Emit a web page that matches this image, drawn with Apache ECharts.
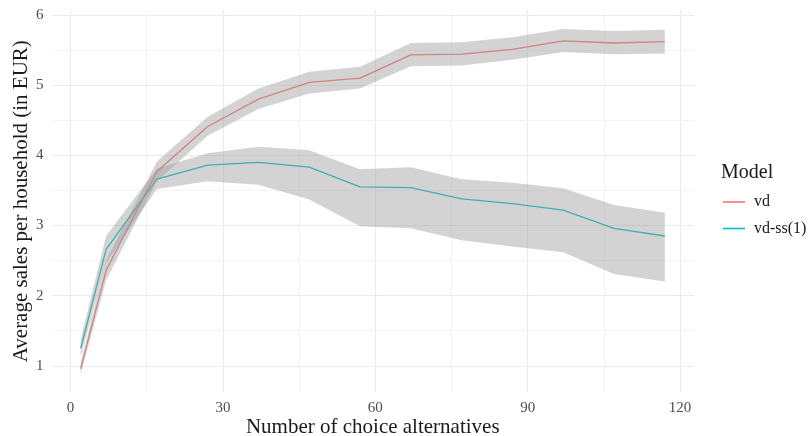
<!DOCTYPE html>
<html><head><meta charset="utf-8">
<script src="https://cdn.jsdelivr.net/npm/echarts@6/dist/echarts.min.js"></script>
<style>html,body{margin:0;padding:0;background:#fff}#c{width:809px;height:436px}</style>
</head><body><div id="c"></div>
<script>
const xs = [2, 7, 17, 27, 37, 47, 57, 67, 77, 87, 97, 107, 117];
const vdMean = [0.96, 2.36, 3.77, 4.41, 4.80, 5.04, 5.10, 5.43, 5.44, 5.51, 5.63, 5.60, 5.62];
const vdLow  = [0.88, 2.22, 3.63, 4.28, 4.66, 4.88, 4.95, 5.27, 5.28, 5.36, 5.47, 5.44, 5.45];
const vdHigh = [1.04, 2.50, 3.91, 4.55, 4.95, 5.19, 5.26, 5.60, 5.61, 5.68, 5.80, 5.77, 5.79];
const ssMean = [1.25, 2.66, 3.66, 3.86, 3.90, 3.83, 3.55, 3.54, 3.38, 3.31, 3.22, 2.96, 2.85];
const ssLow  = [1.13, 2.47, 3.52, 3.63, 3.58, 3.37, 2.99, 2.96, 2.79, 2.70, 2.62, 2.31, 2.20];
const ssHigh = [1.38, 2.85, 3.81, 4.03, 4.12, 4.07, 3.80, 3.83, 3.66, 3.61, 3.53, 3.29, 3.18];
const xMajor = [0, 30, 60, 90, 120];
const xMinor = [15, 45, 75, 105];
const yMajor = [1, 2, 3, 4, 5, 6];
const yMinor = [1.5, 2.5, 3.5, 4.5, 5.5];
const seriesNames = ['vd', 'vd-ss(1)'];

const FONT = 'Liberation Serif';
const chart = echarts.init(document.getElementById('c'), null, {renderer: 'canvas'});

function ribbon(lo, hi) {
  return {
    type: 'custom',
    silent: true,
    z: 3,
    data: xs.map((x, i) => [x, lo[i], hi[i]]),
    encode: {x: 0, y: [1, 2]},
    renderItem: function (params, api) {
      if (params.dataIndex !== 0) return null;
      const pts = [];
      for (let i = 0; i < xs.length; i++) pts.push(api.coord([xs[i], hi[i]]));
      for (let i = xs.length - 1; i >= 0; i--) pts.push(api.coord([xs[i], lo[i]]));
      return {type: 'polygon', shape: {points: pts}, style: {fill: 'rgba(153,153,153,0.43)', stroke: null}};
    }
  };
}

const gridLines = [];
xMajor.forEach(v => gridLines.push({xAxis: v, lineStyle: {color: '#ebebeb', width: 1.1, type: 'solid'}}));
xMinor.forEach(v => gridLines.push({xAxis: v, lineStyle: {color: '#f4f4f4', width: 1, type: 'solid'}}));
yMajor.forEach(v => gridLines.push({yAxis: v, lineStyle: {color: '#ebebeb', width: 1.1, type: 'solid'}}));
yMinor.forEach(v => gridLines.push({yAxis: v, lineStyle: {color: '#f4f4f4', width: 1, type: 'solid'}}));

chart.setOption({
  animation: false,
  backgroundColor: '#ffffff',
  grid: {left: 51.5, right: 115, top: 10, bottom: 43.5, containLabel: false, outerBoundsMode: 'none'},
  title: {text: 'Model', left: 721, top: 163, padding: 0, textStyle: {fontFamily: FONT, fontSize: 20, fontWeight: 'normal', color: '#1a1a1a'}},
  legend: {
    data: seriesNames, orient: 'vertical', left: 723, top: 194, padding: 0,
    icon: 'rect', itemWidth: 22, itemHeight: 1.6, itemGap: 10.5,
    textStyle: {fontFamily: FONT, fontSize: 16, color: '#1a1a1a', padding: [0, 0, 0, 4]}
  },
  xAxis: {
    type: 'value', min: -3.75, max: 122.75,
    name: 'Number of choice alternatives', nameLocation: 'middle', nameGap: 24, nameMoveOverlap: false,
    nameTextStyle: {fontFamily: FONT, fontSize: 21, color: '#1a1a1a'},
    axisLine: {show: false, onZero: false}, axisTick: {show: false}, splitLine: {show: false},
    axisLabel: {customValues: xMajor, fontFamily: FONT, fontSize: 15, color: '#4d4d4d', margin: 8}
  },
  yAxis: {
    type: 'value', min: 0.62, max: 6.07,
    name: 'Average sales per household (in EUR)', nameLocation: 'middle', nameGap: 20, nameMoveOverlap: false,
    nameTextStyle: {fontFamily: FONT, fontSize: 21, color: '#1a1a1a'},
    axisLine: {show: false, onZero: false}, axisTick: {show: false}, splitLine: {show: false},
    axisLabel: {customValues: yMajor, fontFamily: FONT, fontSize: 15, color: '#4d4d4d', margin: 8}
  },
  series: [
    {type: 'line', name: '__grid', data: [], silent: true, z: 0,
     markLine: {silent: true, z: 0, symbol: 'none', label: {show: false}, animation: false, data: gridLines}},
    {type: 'line', name: seriesNames[0], data: xs.map((x, i) => [x, vdMean[i]]), showSymbol: false, z: 2,
     itemStyle: {color: '#F8766D'}, lineStyle: {color: '#F8766D', width: 1.3}},
    {type: 'line', name: seriesNames[1], data: xs.map((x, i) => [x, ssMean[i]]), showSymbol: false, z: 2,
     itemStyle: {color: '#00BFC4'}, lineStyle: {color: '#00BFC4', width: 1.3}},
    ribbon(vdLow, vdHigh),
    ribbon(ssLow, ssHigh)
  ]
});
</script></body></html>
